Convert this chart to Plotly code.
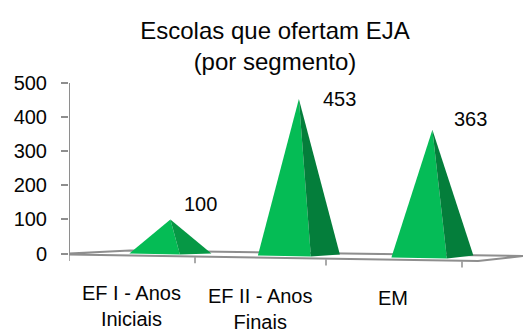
import plotly.graph_objects as go

# Chart data
categories = ["EF I - Anos<br>Iniciais", "EF II - Anos<br>Finais", "EM"]
values = [100, 453, 363]
value_ticks = [0, 100, 200, 300, 400, 500]
title_lines = ["Escolas que ofertam EJA", "(por segmento)"]

# Shading of each pyramid: lit face, shaded face
lit_faces = ["#05BC55", "#05BC55", "#05BC57"]
shaded_faces = ["#069845", "#047E3B", "#047E3B"]

WIDTH, HEIGHT = 523, 329
ZERO_ROW = 253.5      # pixel row of value 0
PX_PER_UNIT = 0.341   # vertical pixels per unit of value
AXIS_X = 69
GREY = "#8E8E8E"
INK = "#050505"


def slot_x(u):
    """Horizontal position of slot coordinate u; slots widen towards the viewer."""
    return AXIS_X + 123.5 * u + 2.5 * u * u


def drop(px):
    """A downward pixel offset expressed in value units."""
    return -px / PX_PER_UNIT


fig = go.Figure()

# Floor of the 3D box
floor_x = [AXIS_X, 130, WIDTH, 478, AXIS_X]
floor_y = [drop(0), drop(-3), drop(2.5), drop(7.5), drop(1)]
fig.add_trace(go.Scatter(x=floor_x, y=floor_y, mode="lines", fill="toself",
                         fillcolor="#FFFFFF", line=dict(color=GREY, width=2),
                         hoverinfo="skip", showlegend=False))

# Category separators hanging below the floor's front edge
for i in range(len(categories) + 1):
    tx = slot_x(i)
    top = 1.5 + 2.2 * i
    fig.add_trace(go.Scatter(x=[tx, tx], y=[drop(top), drop(top + 6)], mode="lines",
                             line=dict(color=GREY, width=1.5),
                             hoverinfo="skip", showlegend=False))

# Value axis line
fig.add_trace(go.Scatter(x=[AXIS_X, AXIS_X], y=[value_ticks[0], value_ticks[-1]], mode="lines",
                         line=dict(color=GREY, width=2),
                         hoverinfo="skip", showlegend=False))

# Pyramids: each one is a lit face and a shaded face meeting at the apex
for i, v in enumerate(values):
    centre = slot_x(i + 0.5)
    apex = centre + 39
    sink = 2.0 * i
    left = (apex - 41, drop(sink))
    front = (apex + 9.5 + 2.5 * i, drop(sink + 1))
    right = (apex + 41, drop(sink * 0.5))
    fig.add_trace(go.Scatter(x=[left[0], apex, front[0], left[0]],
                             y=[left[1], v, front[1], left[1]],
                             mode="lines", fill="toself", fillcolor=lit_faces[i],
                             line=dict(width=0), name=categories[i].replace("<br>", " "),
                             showlegend=False))
    fig.add_trace(go.Scatter(x=[front[0], apex, right[0], front[0]],
                             y=[front[1], v, right[1], front[1]],
                             mode="lines", fill="toself", fillcolor=shaded_faces[i],
                             line=dict(width=0), hoverinfo="skip", showlegend=False))

    # Value label beside the apex
    fig.add_annotation(x=apex, y=v, text=str(v), showarrow=False,
                       xshift=[30, 41, 38][i], yshift=[15, 0, 11][i],
                       font=dict(size=20, color=INK))

    # Category label under the slot
    fig.add_annotation(x=centre, y=drop(26.5 + 2.5 * i), text=categories[i], showarrow=False,
                       yanchor="top", align="center",
                       font=dict(size=20, color=INK))

fig.update_layout(
    width=WIDTH, height=HEIGHT,
    margin=dict(l=0, r=0, t=0, b=0),
    paper_bgcolor="#FFFFFF", plot_bgcolor="#FFFFFF",
    font=dict(family="Liberation Sans, Arial, sans-serif", color=INK),
    title=dict(text="<br>".join(title_lines), x=275 / WIDTH, xanchor="center",
               y=1 - 39 / HEIGHT, yanchor="top", font=dict(size=24, color=INK)),
    showlegend=False,
    xaxis=dict(domain=[AXIS_X / WIDTH, 1], range=[AXIS_X, WIDTH], visible=False, fixedrange=True),
    yaxis=dict(domain=[0, 1],
               range=[drop(HEIGHT - ZERO_ROW), ZERO_ROW / PX_PER_UNIT],
               tickmode="array", tickvals=value_ticks, ticks="outside", ticklen=7,
               tickwidth=1.5, tickcolor=GREY, showgrid=False, zeroline=False,
               ticklabelstandoff=10,
               showline=False, tickfont=dict(size=20, color=INK), fixedrange=True),
)

fig.write_html("out.html", config=dict(displayModeBar=False))
